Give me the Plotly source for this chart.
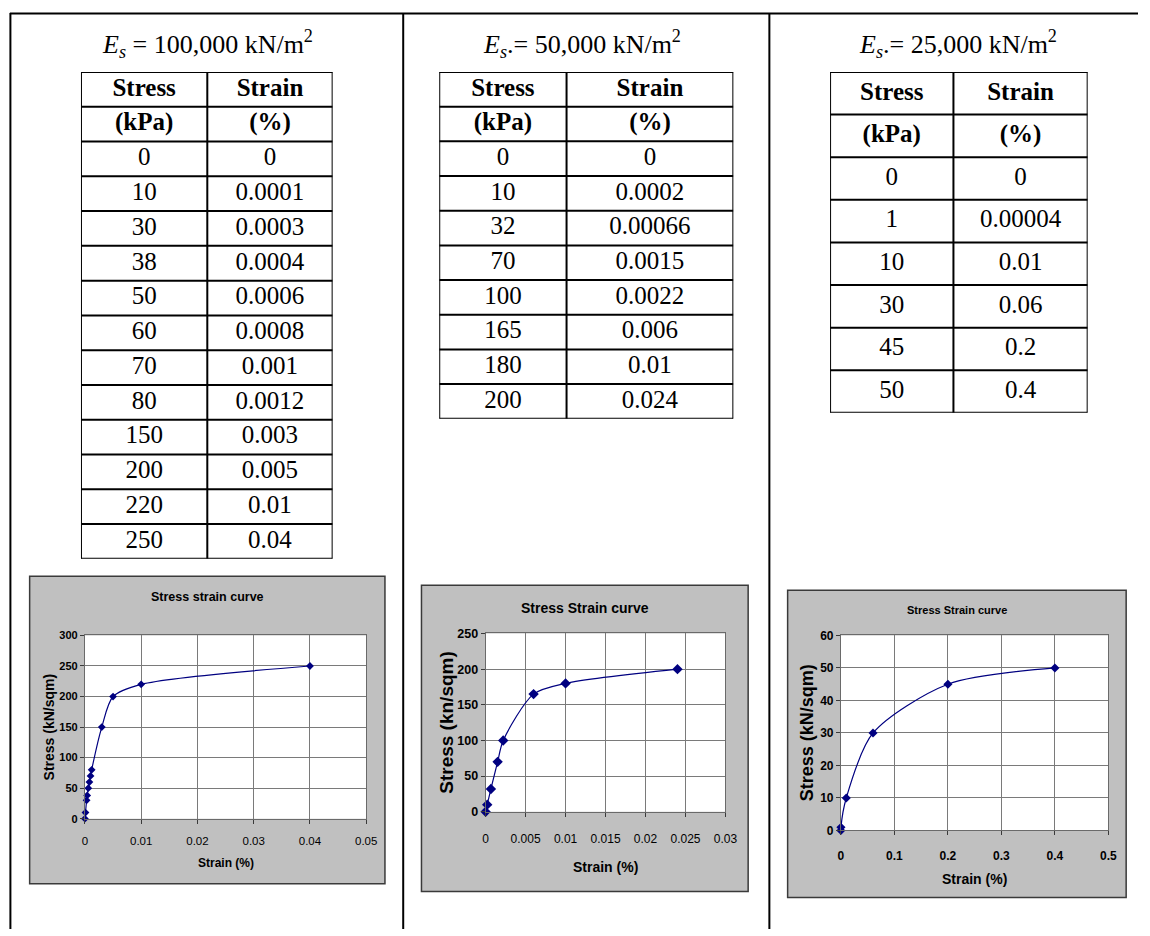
import numpy as np
import plotly.graph_objects as go

W, H = 1150, 936

# ---------------- data ----------------
stress_1 = [0, 10, 30, 38, 50, 60, 70, 80, 150, 200, 220, 250]
strain_1 = [0, 0.0001, 0.0003, 0.0004, 0.0006, 0.0008, 0.001, 0.0012, 0.003, 0.005, 0.01, 0.04]

stress_2 = [0, 10, 32, 70, 100, 165, 180, 200]
strain_2 = [0, 0.0002, 0.00066, 0.0015, 0.0022, 0.006, 0.01, 0.024]

stress_3 = [0, 1, 10, 30, 45, 50]
strain_3 = [0, 0.00004, 0.01, 0.06, 0.2, 0.4]

panel_titles = [
    "<i>E<sub>s</sub></i> = 100,000 kN/m<sup>2</sup>",
    "<i>E<sub>s</sub></i>.= 50,000 kN/m<sup>2</sup>",
    "<i>E<sub>s</sub></i>.= 25,000 kN/m<sup>2</sup>",
]
header_top = ["Stress", "Strain"]
header_units = ["(kPa)", "(%)"]
chart_titles = ["Stress strain curve", "Stress Strain curve", "Stress Strain curve"]
y_titles = ["Stress (kN/sqm)", "Stress (kn/sqm)", "Stress (kN/sqm)"]
x_title = "Strain (%)"

x_ranges = [[0, 0.05], [0, 0.03], [0, 0.5]]
x_dticks = [0.01, 0.005, 0.1]
y_ranges = [[0, 300], [0, 250], [0, 60]]
y_dticks = [50, 50, 10]


def px(x):
    return x / W


def py(y):
    return 1 - y / H


def fmt(v):
    return np.format_float_positional(float(v), trim="-")


SERIF = "Liberation Serif, Times New Roman, serif"
SANS = "Liberation Sans, Arial, sans-serif"
NAVY = "#000080"

fig = go.Figure()
shapes = []
annotations = []
layout_axes = {}

# ---------------- charts ----------------
charts = [
    dict(stress=stress_1, strain=strain_1, box=(27, 578, 387, 890), plot=(83, 638, 368, 824),
         title_y=599, title_size=12.5, tick_size=11.5, ytick_size=11, xt_bold=False,
         xt_y=869, xt_size=12, yt_x=47, yt_size=14, msize=6, standoff=8),
    dict(stress=stress_2, strain=strain_2, box=(424, 587, 755, 898), plot=(489, 636, 732, 817),
         title_y=610, title_size=14, tick_size=12, ytick_size=12.5, xt_bold=False,
         xt_y=873, xt_size=14, yt_x=450, yt_size=19, msize=8, standoff=12),
    dict(stress=stress_3, strain=strain_3, box=(795, 592, 1138, 904), plot=(849, 638, 1120, 836),
         title_y=612, title_size=11, tick_size=12, ytick_size=12, xt_bold=True,
         xt_y=885, xt_size=14, yt_x=815, yt_size=18, msize=7, standoff=10),
]

for i, c in enumerate(charts):
    k = "" if i == 0 else str(i + 1)
    bx0, by0, bx1, by1 = c["box"]
    lx0, ly0, lx1, ly1 = c["plot"]
    shapes.append(dict(type="rect", xref="paper", yref="paper", layer="below",
                       x0=px(bx0), x1=px(bx1), y0=py(by1), y1=py(by0),
                       fillcolor="#C0C0C0", line=dict(color="#3a3a3a", width=1.5)))
    shapes.append(dict(type="rect", xref="paper", yref="paper", layer="below",
                       x0=px(lx0), x1=px(lx1), y0=py(ly1), y1=py(ly0),
                       fillcolor="white", line=dict(width=0)))

    fig.add_trace(go.Scatter(
        x=c["strain"], y=c["stress"], mode="lines+markers",
        xaxis="x" + k, yaxis="y" + k, cliponaxis=False, showlegend=False,
        line=dict(color=NAVY, width=1.2, shape="spline", smoothing=0.8),
        marker=dict(symbol="diamond", size=c["msize"], color=NAVY),
    ))

    axis_common = dict(showgrid=True, gridcolor="#7a7a7a", gridwidth=1,
                       showline=True, linecolor="#6a6a6a", linewidth=1, mirror=True,
                       ticks="outside", ticklen=4, tickcolor="#3a3a3a", zeroline=False,
                       fixedrange=True)
    layout_axes["xaxis" + k] = dict(
        **axis_common, domain=[px(lx0), px(lx1)], anchor="y" + k,
        range=x_ranges[i], dtick=x_dticks[i], tick0=0,
        ticklabelstandoff=c["standoff"],
        tickfont=dict(family=SANS, size=c["tick_size"], color="black",
                      weight="bold" if c["xt_bold"] else "normal"),
    )
    layout_axes["yaxis" + k] = dict(
        **axis_common, domain=[py(ly1), py(ly0)], anchor="x" + k,
        range=y_ranges[i], dtick=y_dticks[i], tick0=0,
        tickfont=dict(family=SANS, size=c["ytick_size"], color="black", weight="bold"),
    )

    annotations.append(dict(text=f"<b>{chart_titles[i]}</b>", x=px((bx0 + bx1) / 2), y=py(c["title_y"]),
                            xref="paper", yref="paper", showarrow=False,
                            xanchor="center", yanchor="middle",
                            font=dict(family=SANS, size=c["title_size"], color="black")))
    annotations.append(dict(text=f"<b>{x_title}</b>", x=px((lx0 + lx1) / 2), y=py(c["xt_y"]),
                            xref="paper", yref="paper", showarrow=False,
                            xanchor="center", yanchor="middle",
                            font=dict(family=SANS, size=c["xt_size"], color="black")))
    annotations.append(dict(text=f"<b>{y_titles[i]}</b>", x=px(c["yt_x"]), y=py((ly0 + ly1) / 2),
                            xref="paper", yref="paper", showarrow=False, textangle=-90,
                            xanchor="center", yanchor="middle",
                            font=dict(family=SANS, size=c["yt_size"], color="black")))

# ---------------- tables (text scatter on hidden axes) ----------------
tables = [
    (stress_1, strain_1, 79, 207, 334, 66, 35.3),
    (stress_2, strain_2, 442, 571, 740, 66, 35.2),
    (stress_3, strain_3, 838, 963, 1099, 66, 43.25),
]
for t, (stress, strain, x0, xm, x1, y0, rh) in enumerate(tables):
    ax = str(t + 4)
    col_w = [xm - x0, x1 - xm]
    n = len(stress) + 2
    col1 = [f"<b>{header_top[0]}</b>", f"<b>{header_units[0]}</b>"] + [fmt(v) for v in stress]
    col2 = [f"<b>{header_top[1]}</b>", f"<b>{header_units[1]}</b>"] + [fmt(v) for v in strain]
    rows = [r + 0.5 for r in range(n)]
    centers = [col_w[0] / 2, col_w[0] + col_w[1] / 2]
    for cx, col in zip(centers, (col1, col2)):
        fig.add_trace(go.Scatter(
            x=[cx] * n, y=rows, text=col, mode="text", textposition="middle center",
            textfont=dict(family=SERIF, size=25, color="black"),
            xaxis="x" + ax, yaxis="y" + ax, showlegend=False, hoverinfo="skip",
            cliponaxis=False,
        ))
    layout_axes["xaxis" + ax] = dict(domain=[px(x0), px(x1)], range=[0, sum(col_w)],
                                     visible=False, fixedrange=True, anchor="y" + ax)
    layout_axes["yaxis" + ax] = dict(domain=[py(y0 + n * rh), py(y0)], range=[n, 0],
                                     visible=False, fixedrange=True, anchor="x" + ax)
    tline = dict(type="line", xref="x" + ax, yref="y" + ax, line=dict(color="black", width=2))
    for r in range(n + 1):
        shapes.append({**tline, "x0": 0, "x1": sum(col_w), "y0": r, "y1": r})
    for xv in (0, col_w[0], sum(col_w)):
        shapes.append({**tline, "x0": xv, "x1": xv, "y0": 0, "y1": n})

# frame lines of the outer layout table
frame = dict(type="line", xref="paper", yref="paper", line=dict(color="black", width=2))
shapes.append({**frame, "x0": px(7), "x1": px(1150), "y0": py(6.5), "y1": py(6.5)})
for xv in (7.5, 405.5, 776.5):
    shapes.append({**frame, "x0": px(xv), "x1": px(xv), "y0": py(6), "y1": py(936)})

table_centers = [207, 587, 968]
for ttl, cx in zip(panel_titles, table_centers):
    annotations.append(dict(text=ttl, x=px(cx), y=py(38), xref="paper", yref="paper",
                            showarrow=False, xanchor="center", yanchor="middle",
                            font=dict(family=SERIF, size=26, color="black")))

fig.update_layout(
    width=W, height=H,
    margin=dict(l=0, r=0, t=0, b=0),
    paper_bgcolor="white",
    plot_bgcolor="rgba(0,0,0,0)",
    showlegend=False,
    shapes=shapes,
    annotations=annotations,
    **layout_axes,
)

fig.write_html("out.html", config={"displayModeBar": False})
